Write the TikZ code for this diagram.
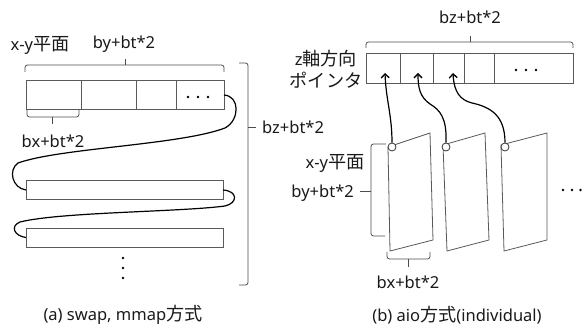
\documentclass[tikz,border=0pt]{standalone}
\usepackage{fontspec}
\setmainfont{Noto Sans}
\newfontfamily\jp[Scale=1.1]{Noto Sans CJK JP}
\usetikzlibrary{arrows.meta}
\begin{document}
\begin{tikzpicture}[x=1pt,y=-1pt,
  lbl/.style={inner sep=0pt, font=\fontsize{16.5}{19}\selectfont, text=black!90},
  box/.style={draw=black!65, line width=0.8pt},
  brk/.style={draw=black!70, line width=0.8pt, rounded corners=2.5pt},
  wire/.style={draw=black, line width=1.2pt},
  ptr/.style={wire, -{Straight Barb[length=4pt,width=8pt,line width=1.3pt]}},
  dot/.style={circle, fill=black, inner sep=0pt, minimum size=2.8pt},
  ring/.style={circle, draw=black!80, line width=0.8pt, fill=white, inner sep=0pt, minimum size=8pt},
]
\useasboundingbox (0,0) rectangle (582,331);

% ---------- (a) left panel ----------
\node[lbl] (xyA) at (40,45) {x-y{\jp 平面}};
\node[lbl] (byA) at (124,44) {by+bt*2};
\draw[brk] (25,72) |- (224,65) -- (224,72);
\draw[brk] (125,65) -- (125,59);

\draw[box] (26,80) rectangle (224,109);
\foreach \x in {81,136,176} \draw[box] (\x,80) -- (\x,109);
\node[dot] (ad1) at (188,97) {};
\node[dot] (ad2) at (198,97) {};
\node[dot] (ad3) at (208,97) {};

\draw[brk] (27,110) |- (79,117) -- (79,110);
\draw[brk] (52,117) -- (52,124);
\node[lbl] (bxA) at (53,141) {bx+bt*2};

\draw[brk] (239,63) -| (248,285) -- (239,285);
\draw[brk] (248,127) -- (256,127);
\node[lbl, anchor=west] (bzA) at (262,127) {bz+bt*2};

\draw[box] (26,180) rectangle (223,199);
\draw[box] (26,228) rectangle (223,247);
\coordinate (r1e) at (224,95);
\coordinate (r2w) at (26,190);
\coordinate (r2e) at (223,190);
\coordinate (r3w) at (26,237.5);
\draw[wire] (r1e) .. controls (240,96) and (240,120) .. (225,128)
  .. controls (180,145) and (60,148) .. (18,163)
  .. controls (8,170) and (12,188) .. (r2w);
\draw[wire] (r2e) .. controls (238,191) and (238,203) .. (225,206)
  .. controls (180,212) and (60,212) .. (20,222)
  .. controls (10,226) and (14,236) .. (r3w);

\node[dot] (av1) at (123,258) {};
\node[dot] (av2) at (123,268) {};
\node[dot] (av3) at (123,278) {};

\node[lbl] (capA) at (123,315) {(a) swap, mmap{\jp 方式}};

% ---------- (b) right panel ----------
\node[lbl] (bzB) at (470,17) {bz+bt*2};
\draw[brk] (366,48) |- (573,42) -- (573,48);
\draw[brk] (470,42) -- (470,36);

\draw[box] (366,53) rectangle (573,83);
\foreach \x in {400,433,464,494} \draw[box] (\x,53) -- (\x,83);
\node[dot] (bd1) at (516,70) {};
\node[dot] (bd2) at (526,70) {};
\node[dot] (bd3) at (536,70) {};

\node[lbl] (zax) at (326,59) {z{\jp 軸方向}};
\node[lbl] (poi) at (326,80) {\jp ポインタ};

\draw[box] (388,147) -- (430,133) -- (433,240) -- (390,251) -- cycle;
\draw[box] (443,145) -- (485,133) -- (489,240) -- (447,251) -- cycle;
\draw[box] (501,145) -- (547,133) -- (547,240) -- (504,251) -- cycle;

\node[ring] (c1) at (392,147) {};
\node[ring] (c2) at (446,147) {};
\node[ring] (c3) at (505,147) {};
\coordinate (t1) at (385,73);
\coordinate (t2) at (418,73);
\coordinate (t3) at (453,73);
\draw[ptr] (c1.north) .. controls (392,115) and (386,100) .. (t1);
\draw[ptr] (c2.north) .. controls (447,118) and (440,110) .. (430,104)
  .. controls (420,97) and (418,88) .. (t2);
\draw[ptr] (c3.north) .. controls (505,115) and (490,107) .. (472,103)
  .. controls (460,100) and (454,92) .. (t3);

\draw[brk] (386,144) -| (371,236) -- (385,236);
\draw[brk] (371,191) -- (360,191);
\node[lbl] (xyB) at (335,163) {x-y{\jp 平面}};
\node[lbl, anchor=east] (byB) at (354,193) {by+bt*2};

\draw[brk] (387,252) |- (430,259) -- (430,252);
\draw[brk] (408,259) -- (408,267);
\node[lbl] (bxB) at (408,282) {bx+bt*2};

\node[dot] (rd1) at (563,190) {};
\node[dot] (rd2) at (572,190) {};
\node[dot] (rd3) at (580.5,190) {};

\node[lbl] (capB) at (457,315) {(b) aio{\jp 方式}(individual)};
\end{tikzpicture}
\end{document}
